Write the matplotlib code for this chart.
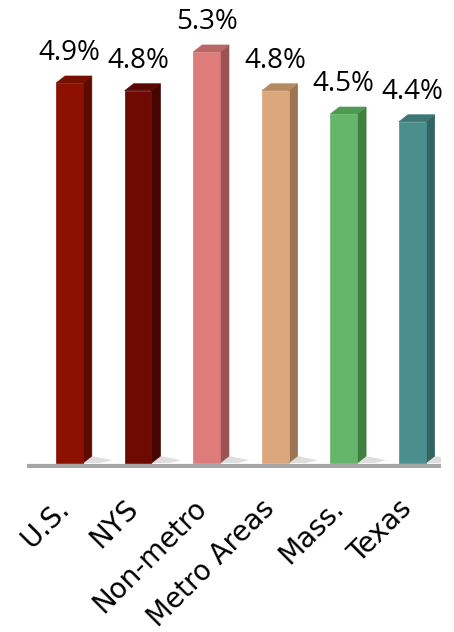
import numpy as np
import matplotlib
matplotlib.use('Agg')
import matplotlib.pyplot as plt
from matplotlib.patches import Polygon

# 数据
categories = ["U.S.", "NYS", "Non-metro", "Metro Areas", "Mass.", "Texas"]
values = [4.9, 4.8, 5.3, 4.8, 4.5, 4.4]
value_labels = ["4.9%", "4.8%", "5.3%", "4.8%", "4.5%", "4.4%"]
front_colors = ["#8c1100", "#6e0a02", "#dd7c7a", "#dca77d", "#65b66a", "#4a8f8d"]
side_colors = ["#5c0b02", "#450603", "#9b5252", "#9c7452", "#40803f", "#336362"]
top_colors = ["#751000", "#5a0803", "#b86666", "#b88a62", "#4f9a52", "#3d7674"]

fig = plt.figure(figsize=(4.54, 6.32), dpi=100)
ax = fig.add_axes([0.0595, 0.2600, 0.9115, 0.7400])

x = np.arange(len(categories))
width = 0.39
dx = 0.13   # 侧面深度
dy = 0.09   # 顶面偏移

for i in range(len(categories)):
    v = values[i]
    left = x[i] - width / 2
    right = x[i] + width / 2
    # 阴影
    shadow = Polygon([(right, 0), (right + dx, dy), (right + dx + 0.3, dy * 0.4),
                      (right + 0.25, 0)], closed=True, facecolor="#d0d0d0",
                     edgecolor="none", alpha=0.7, zorder=1)
    ax.add_patch(shadow)
    ax.bar(x[i], v, width=width, color=front_colors[i], edgecolor=front_colors[i],
           linewidth=0.5, zorder=4)
    side = Polygon([(right, 0), (right + dx, dy), (right + dx, v + dy), (right, v)],
                   closed=True, facecolor=side_colors[i], edgecolor=side_colors[i],
                   linewidth=0.5, zorder=3)
    ax.add_patch(side)
    top = Polygon([(left, v), (left + dx, v + dy), (right + dx, v + dy), (right, v)],
                  closed=True, facecolor=top_colors[i], edgecolor=top_colors[i],
                  linewidth=0.5, zorder=3)
    ax.add_patch(top)
    ax.text(x[i], v + 0.2, value_labels[i], ha="center", va="bottom",
            fontsize=20, family="Open Sans", color="black")

ax.axhline(-0.04, color="#a6a6a6", linewidth=3, zorder=2)

ax.set_xlim(-0.62, 5.415)
ax.set_ylim(-0.06, 5.97)
ax.set_xticks(x - 0.21)
ax.set_xticklabels(categories, rotation=45, ha="right", va="top",
                   rotation_mode="anchor", fontsize=20, family="DejaVu Sans")
ax.tick_params(axis="x", length=0, pad=19)
ax.set_yticks([])
for s in ax.spines.values():
    s.set_visible(False)
ax.patch.set_alpha(0)
for lbl in ax.get_xticklabels():
    lbl.set_clip_on(False)

fig.savefig("out.png", dpi=100)
